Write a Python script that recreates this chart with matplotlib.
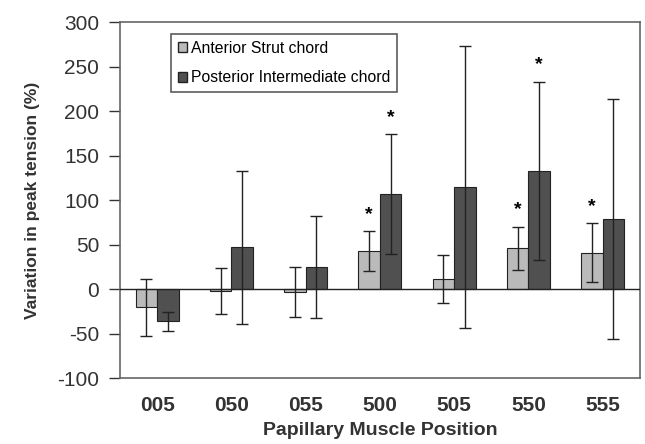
import numpy as np
import matplotlib
matplotlib.use("Agg")
import matplotlib.pyplot as plt
import matplotlib.patches as mpatches

plt.rcParams['font.family'] = ['Liberation Sans', 'DejaVu Sans']
plt.rcParams['axes.unicode_minus'] = False

positions = ['005', '050', '055', '500', '505', '550', '555']

# Anterior strut chord: mean and error
anterior = [-20, -2, -3, 43, 12, 46, 41]
anterior_err = [32, 26, 28, 22, 27, 24, 33]
anterior_sig = [False, False, False, True, False, True, True]

# Posterior intermediate chord: mean and error
posterior = [-36, 47, 25, 107, 115, 133, 79]
posterior_err = [11, 86, 57, 67, 158, 100, 135]
posterior_sig = [False, False, False, True, False, True, False]

fig, ax = plt.subplots(figsize=(6.45, 4.44), dpi=100)
fig.subplots_adjust(left=0.186, right=0.992, top=0.95, bottom=0.148)

x = np.arange(len(positions))
w = 0.29
light = '#bababa'
dark = '#505050'

ax.bar(x - w / 2, anterior, w, color=light, edgecolor='#222222', linewidth=0.8, zorder=2)
ax.bar(x + w / 2, posterior, w, color=dark, edgecolor='#222222', linewidth=0.8, zorder=2)
ax.errorbar(x - w / 2, anterior, yerr=anterior_err, fmt='none', ecolor='#222222',
            elinewidth=1, capsize=4, capthick=1, zorder=3)
ax.errorbar(x + w / 2, posterior, yerr=posterior_err, fmt='none', ecolor='#222222',
            elinewidth=1, capsize=4, capthick=1, zorder=3)

# significance stars
for i in range(len(positions)):
    if anterior_sig[i]:
        ax.text(x[i] - w / 2, anterior[i] + anterior_err[i] + 19, '*', ha='center',
                va='center', fontsize=14, fontweight='bold')
    if posterior_sig[i]:
        ax.text(x[i] + w / 2, posterior[i] + posterior_err[i] + 19, '*', ha='center',
                va='center', fontsize=14, fontweight='bold')

ax.axhline(0, color='#222222', linewidth=1, zorder=4)

ax.set_xlim(-0.5, len(positions) - 0.5)
ax.set_ylim(-100, 300)
ax.set_yticks(range(-100, 301, 50))
ax.set_xticks(x)
ax.set_xticklabels(positions, fontsize=15, fontweight='bold', color='#333333')
ax.tick_params(axis='x', length=0, pad=13)
ax.tick_params(axis='y', labelsize=15, length=8, width=1, direction='out', colors='#333333', pad=7)
for s in ax.spines.values():
    s.set_color('#666666')
    s.set_linewidth(1.2)

ax.set_xlabel('Papillary Muscle Position', fontsize=14, fontweight='bold', color='#333333', labelpad=5)
ax.set_ylabel('Variation in peak tension (%)', fontsize=12.5, fontweight='bold', color='#333333', labelpad=12)

handles = [mpatches.Patch(facecolor=light, edgecolor='#222222', label='Anterior Strut chord'),
           mpatches.Patch(facecolor=dark, edgecolor='#222222', label='Posterior Intermediate chord')]
leg = ax.legend(handles=handles, loc='upper left', bbox_to_anchor=(0.098, 0.967), fontsize=11.3,
                frameon=True, fancybox=False, edgecolor='#333333', handlelength=0.6,
                handleheight=0.6, handletextpad=0.2, borderpad=0.45, labelspacing=0.9,
                borderaxespad=0)
leg.get_frame().set_linewidth(1.2)

fig.savefig('out.png', dpi=100)
